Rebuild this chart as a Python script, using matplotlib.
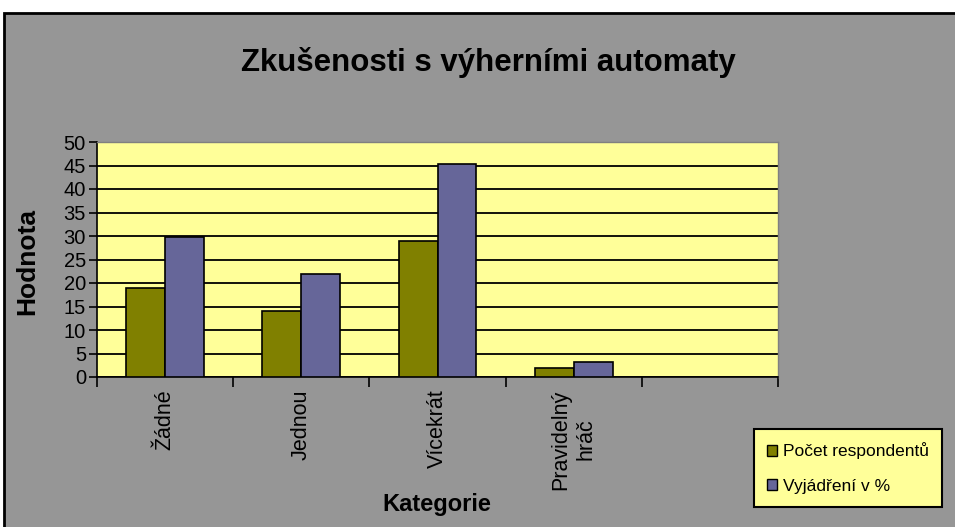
import matplotlib
matplotlib.use("Agg")
import matplotlib.pyplot as plt
from matplotlib.patches import Rectangle, Patch
import numpy as np

categories = ["Žádné", "Jednou", "Vícekrát", "Pravidelný\nhráč", ""]
pocet = [19, 14, 29, 2, None]
procenta = [29.7, 21.9, 45.3, 3.1, None]
series_names = ["Počet respondentů", "Vyjádření v %"]
yticks = [0, 5, 10, 15, 20, 25, 30, 35, 40, 45, 50]

plt.rcParams['font.family'] = ['Liberation Sans', 'DejaVu Sans']

W, H = 955, 527
fig = plt.figure(figsize=(W / 100, H / 100), dpi=100)
fig.patch.set_facecolor("white")

# gray chart area with black frame
fig.patches.append(Rectangle((4 / W, -0.05), 1.1, 1 - 13 / H + 0.05,
                             transform=fig.transFigure, facecolor="#969696",
                             edgecolor="black", linewidth=2, zorder=-10))

ax = fig.add_axes([97 / W, 1 - 377 / H, 681 / W, 235 / H])
ax.set_zorder(5)
ax.set_facecolor("#FFFF99")

x = np.arange(len(categories))
bw = 0.286
vals1 = [v if v is not None else 0 for v in pocet]
vals2 = [v if v is not None else 0 for v in procenta]
n = sum(v is not None for v in pocet)
ax.bar(x[:n] - bw / 2, vals1[:n], width=bw, color="#808000", edgecolor="black",
       linewidth=1.2, zorder=3)
ax.bar(x[:n] + bw / 2, vals2[:n], width=bw, color="#666699", edgecolor="black",
       linewidth=1.2, zorder=3)

ax.set_xlim(-0.5, len(categories) - 0.5)
ax.set_ylim(0, 50)
ax.set_yticks(yticks)
ax.set_yticklabels([str(t) for t in yticks], fontsize=14.5)
ax.yaxis.grid(True, color="black", linewidth=1.3, zorder=1)
ax.set_axisbelow(True)

ax.set_xticks(x)
ax.set_xticklabels(categories, rotation=90, fontsize=15.5, va="top",
                   ha="center", linespacing=1.25)
ax.set_xticks(np.arange(-0.5, len(categories)), minor=True)
ax.tick_params(axis="x", which="major", length=0, pad=9)
ax.tick_params(axis="x", which="minor", length=7, width=1.2, direction="out")
ax.tick_params(axis="y", length=6, width=1.2, direction="out", pad=2)

for s in ["top", "right"]:
    ax.spines[s].set_color("#808080")
    ax.spines[s].set_linewidth(1)
ax.spines["left"].set_color("black")
ax.spines["bottom"].set_color("black")
ax.spines["left"].set_linewidth(1.2)
ax.spines["bottom"].set_linewidth(1.2)

fig.text(488 / W, 1 - 63 / H, "Zkušenosti s výherními automaty",
         fontsize=22.5, fontweight="bold", ha="center", va="center")
fig.text(27 / W, 1 - 262 / H, "Hodnota", fontsize=19, fontweight="bold",
         rotation=90, ha="center", va="center")
fig.text(437 / W, 1 - 504 / H, "Kategorie", fontsize=17, fontweight="bold",
         ha="center", va="center")

handles = [Patch(facecolor="#808000", edgecolor="black", linewidth=1),
           Patch(facecolor="#666699", edgecolor="black", linewidth=1)]
leg = fig.legend(handles, series_names, loc="center",
                 bbox_to_anchor=(848 / W, 1 - 468 / H),
                 prop={'size': 12.5},
                 frameon=True, fancybox=False, handlelength=0.6,
                 handleheight=0.6, handletextpad=0.35, labelspacing=1.1,
                 borderpad=0.75, borderaxespad=0)
leg.get_frame().set_facecolor("#FFFF99")
leg.get_frame().set_edgecolor("black")
leg.get_frame().set_linewidth(1.5)
leg.get_frame().set_alpha(1)

fig.savefig("out.png", dpi=100)
